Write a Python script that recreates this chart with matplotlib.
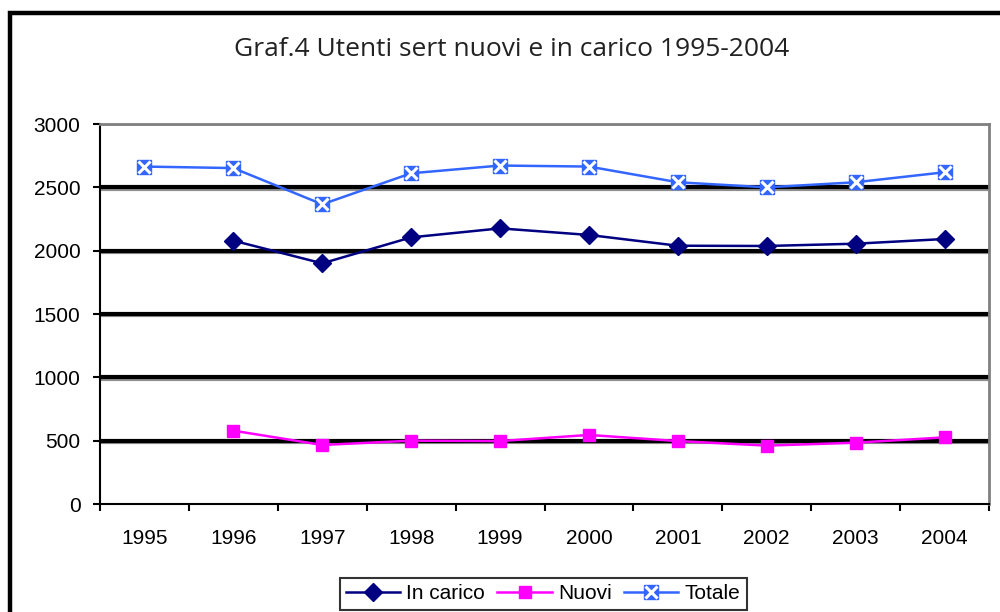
import matplotlib
matplotlib.use("Agg")
import matplotlib.pyplot as plt
import matplotlib.patheffects as pe
from matplotlib.patches import Rectangle

# -- data --
years = ["1995", "1996", "1997", "1998", "1999", "2000", "2001", "2002", "2003", "2004"]
in_carico = [None, 2079, 1900, 2105, 2176, 2124, 2039, 2037, 2055, 2092]
nuovi = [None, 579, 466, 500, 497, 545, 497, 461, 484, 526]
totale = [2664, 2652, 2366, 2611, 2672, 2664, 2540, 2500, 2540, 2619]

y_ticks = [0, 500, 1000, 1500, 2000, 2500, 3000]

plt.rcParams['font.family'] = ['Liberation Sans', 'DejaVu Sans']

fig = plt.figure(figsize=(10, 6.12), dpi=100)
ax = fig.add_axes([0.1, 1 - 504 / 612, 0.889, 380 / 612])

x = list(range(len(years)))


def pts(vals):
    xs = [i for i, v in zip(x, vals) if v is not None]
    ys = [v for v in vals if v is not None]
    return xs, ys


# gridlines: thick black with a thin grey shadow, like the old Excel chart
for yv in y_ticks[1:-1]:
    ax.axhline(yv, color='black', lw=3.0, zorder=1,
               path_effects=[pe.SimpleLineShadow(offset=(0, -0.9), shadow_color='#909090', alpha=1),
                             pe.Normal()])
ax.axhline(3000, color='black', lw=1.0, zorder=1)

xs, ys = pts(in_carico)
l1, = ax.plot(xs, ys, color='#000080', lw=1.8, marker='D', ms=9, mec='#000080', zorder=3)
xs, ys = pts(nuovi)
l2, = ax.plot(xs, ys, color='#FF00FF', lw=1.8, marker='s', ms=9, mec='#FF00FF', zorder=3)
xs, ys = pts(totale)
l3, = ax.plot(xs, ys, color='#3366FF', lw=1.8, marker='s', ms=10, mec='#3366FF', zorder=3)
l3x, = ax.plot(xs, ys, ls='none', marker='x', ms=8, mew=2.2, color='white', zorder=4)

ax.set_xlim(-0.5, len(years) - 0.5)
ax.set_ylim(0, 3000)
ax.set_yticks(y_ticks)
ax.tick_params(axis='y', direction='out', length=5, width=1.5, pad=9, labelsize=15)

ax.set_xticks([i - 0.5 for i in range(len(years) + 1)])
ax.set_xticklabels([])
ax.tick_params(axis='x', which='major', direction='out', length=5, width=1.5)
ax.set_xticks(x, minor=True)
ax.set_xticklabels(years, minor=True, fontsize=15)
ax.tick_params(axis='x', which='minor', length=0, pad=18)

ax.spines['left'].set_linewidth(1.5)
ax.spines['bottom'].set_linewidth(1.5)
ax.spines['top'].set_color('#808080')
ax.spines['top'].set_linewidth(2)
ax.spines['right'].set_color('#808080')
ax.spines['right'].set_linewidth(2)

fig.text(0.512, 1 - 49 / 612, "Graf.4 Utenti sert nuovi e in carico 1995-2004",
         ha='center', va='center', fontsize=19, family=['Open Sans', 'DejaVu Sans'],
         color='#222222')

leg = fig.legend([l1, l2, (l3, l3x)], ["In carico", "Nuovi", "Totale"],
                 loc='upper center', bbox_to_anchor=(0.543, 1 - 578 / 612), ncol=3,
                 fontsize=15, frameon=True, fancybox=False, edgecolor='black',
                 handlelength=2.6, handletextpad=0.3, columnspacing=0.6, borderpad=0.3,
                 borderaxespad=0)
leg.get_frame().set_linewidth(1.5)

# outer chart border
fig.patches.append(Rectangle((0.0095, -0.2), 1.2, 1 - 12.5 / 612 + 0.2, transform=fig.transFigure,
                             fill=False, edgecolor='black', lw=3.2))

fig.savefig("out.png", dpi=100)
